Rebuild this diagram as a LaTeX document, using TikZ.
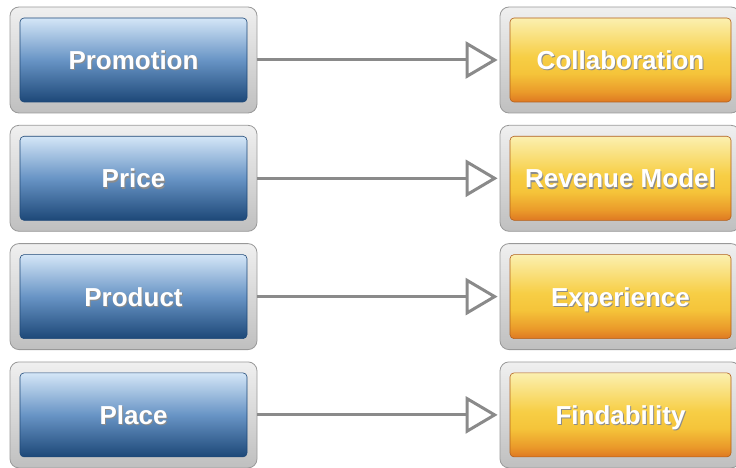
\documentclass[tikz,border=0pt]{standalone}
\usepackage{fontspec}
\setmainfont{Liberation Sans}
\usetikzlibrary{arrows.meta}

\definecolor{bluetop}{HTML}{D4E6F7}
\definecolor{bluemid}{HTML}{6894C5}
\definecolor{bluebot}{HTML}{1D4878}
\definecolor{oratop}{HTML}{FBF0B0}
\definecolor{oragold}{HTML}{F7CE45}
\definecolor{oramid}{HTML}{F5C43A}
\definecolor{oralow}{HTML}{EA9A2A}
\definecolor{orabot}{HTML}{DE7822}
\definecolor{linkgray}{HTML}{8A8A8A}

\pgfdeclareverticalshading{blueshade}{100bp}{color(0bp)=(bluebot); color(25bp)=(bluebot);
	color(50bp)=(bluemid); color(75bp)=(bluetop); color(100bp)=(bluetop)}
\pgfdeclareverticalshading{orashade}{100bp}{color(0bp)=(orabot); color(25bp)=(orabot);
	color(31bp)=(oralow); color(42bp)=(oramid); color(52bp)=(oragold);
	color(75bp)=(oratop); color(100bp)=(oratop)}

\newcommand{\shtext}[1]{\makebox[0pt][l]{\raisebox{-1.5pt}{\hspace{1pt}\color{black!45}#1}}#1}

\tikzset{
	frame/.style={draw=gray!80, line width=0.8pt, rounded corners=9pt,
		top color=gray!12, bottom color=gray!50,
		minimum height=106pt, inner sep=0pt},
	innerbox/.style={line width=0.6pt, rounded corners=4pt,
		minimum width=227pt, minimum height=84pt, inner sep=0pt,
		text height=19pt, text depth=0pt,
		text=white, font=\bfseries\fontsize{26}{30}\selectfont},
	bluebox/.style={innerbox, draw=bluebot, shading=blueshade},
	orabox/.style={innerbox, draw=orabot!80!black, shading=orashade},
	link/.style={draw=linkgray, line width=3pt, shorten >=2pt,
		-{Triangle[open, length=32pt, width=37pt, line width=3pt]}}
}

\begin{document}
\begin{tikzpicture}[x=1pt, y=-1pt]
	\useasboundingbox (0,0) rectangle (736,468);

	\foreach \i/\l/\r in {0/Promotion/Collaboration, 1/Price/Revenue Model,
		2/Product/Experience, 3/Place/Findability} {
		\pgfmathsetmacro{\y}{60+118.3*\i}

		\node[frame, minimum width=247pt] (lf\i) at (133.5,\y) {};
		\node[bluebox] (l\i) at (lf\i) {\shtext{\l}};

		\node[frame, minimum width=240pt] (rf\i) at (620,\y) {};
		\node[orabox, minimum width=221pt, xshift=0.5pt] (r\i) at (rf\i) {\shtext{\r}};

		\draw[link] (lf\i.east) -- (rf\i.west);
	}
\end{tikzpicture}
\end{document}
